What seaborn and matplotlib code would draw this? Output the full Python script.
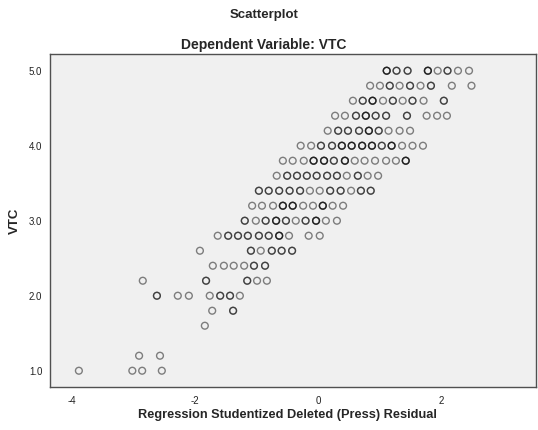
import matplotlib
matplotlib.use("Agg")
import matplotlib.pyplot as plt
import seaborn as sns
import pandas as pd

# VTC levels and the studentized deleted residuals read per level
# (repeated values = overlapping cases drawn on top of each other)
vtc_levels = [1.0, 1.2, 1.6, 1.8, 2.0, 2.2, 2.4, 2.6, 2.8, 3.0, 3.2,
              3.4, 3.6, 3.8, 4.0, 4.2, 4.4, 4.6, 4.8, 5.0]

res_1_0 = [-3.89, -3.02, -2.86, -2.54]
res_1_2 = [-2.91, -2.57]
res_1_6 = [-1.84]
res_1_8 = [-1.72, -1.38, -1.38]
res_2_0 = [-2.62, -2.62, -2.28, -2.10, -1.76, -1.59, -1.59, -1.43, -1.43, -1.27]
res_2_2 = [-2.85, -1.82, -1.82, -1.15, -1.15, -0.99, -0.83]
res_2_4 = [-1.71, -1.53, -1.37, -1.20, -1.04, -1.04, -0.86, -0.86]
res_2_6 = [-1.92, -1.09, -1.09, -0.93, -0.75, -0.75, -0.59, -0.59, -0.42, -0.42]
res_2_8 = [-1.63, -1.46, -1.46, -1.30, -1.30, -1.14, -1.14, -0.96, -0.96,
           -0.80, -0.80, -0.63, -0.63, -0.63, -0.47, -0.15, 0.03]
res_3_0 = [-1.19, -1.19, -1.01, -0.85, -0.85, -0.68, -0.68, -0.68, -0.52, -0.52,
           -0.36, -0.20, -0.20, -0.03, -0.03, -0.03, 0.13, 0.31]
res_3_2 = [-1.07, -0.91, -0.73, -0.57, -0.57, -0.57, -0.41, -0.41, -0.41,
           -0.24, -0.08, 0.08, 0.08, 0.08, 0.24, 0.41]
res_3_4 = [-0.96, -0.96, -0.80, -0.80, -0.63, -0.63, -0.46, -0.46, -0.29, -0.29,
           -0.13, 0.03, 0.20, 0.20, 0.37, 0.37, 0.54, 0.70, 0.70, 0.86, 0.86]
res_3_6 = [-0.67, -0.50, -0.50, -0.34, -0.34, -0.18, -0.18, -0.02, -0.02,
           0.15, 0.15, 0.31, 0.31, 0.47, 0.65, 0.65, 0.81, 0.98]
res_3_8 = [-0.57, -0.41, -0.23, -0.07, -0.07, -0.07, 0.10, 0.10, 0.10,
           0.26, 0.26, 0.44, 0.44, 0.44, 0.60, 0.76, 0.93, 1.11, 1.27,
           1.43, 1.43, 1.43]
res_4_0 = [-0.28, -0.11, 0.05, 0.05, 0.23, 0.23, 0.39, 0.39, 0.39, 0.55, 0.55, 0.55,
           0.72, 0.72, 0.72, 0.88, 0.88, 0.88, 1.04, 1.04, 1.20, 1.20, 1.20,
           1.37, 1.54, 1.71]
res_4_2 = [0.16, 0.33, 0.33, 0.49, 0.49, 0.67, 0.67, 0.83, 0.83, 0.83,
           0.99, 0.99, 1.15, 1.33, 1.50]
res_4_4 = [0.28, 0.44, 0.62, 0.62, 0.78, 0.78, 0.78, 0.94, 0.94, 1.11, 1.11,
           1.45, 1.45, 1.77, 1.94, 2.10]
res_4_6 = [0.57, 0.73, 0.73, 0.89, 0.89, 0.89, 1.06, 1.22, 1.22, 1.38,
           1.54, 1.54, 1.72, 2.05, 2.05]
res_4_8 = [0.85, 1.01, 1.17, 1.17, 1.33, 1.50, 1.50, 1.67, 1.84, 1.84, 2.18, 2.50]
res_5_0 = [1.12, 1.12, 1.12, 1.28, 1.28, 1.46, 1.46, 1.79, 1.79, 1.79,
           1.95, 2.11, 2.11, 2.28, 2.46]

residual_rows = [res_1_0, res_1_2, res_1_6, res_1_8, res_2_0, res_2_2, res_2_4,
                 res_2_6, res_2_8, res_3_0, res_3_2, res_3_4, res_3_6, res_3_8,
                 res_4_0, res_4_2, res_4_4, res_4_6, res_4_8, res_5_0]

x_ticks = [-4, -2, 0, 2]
y_ticks = [1.0, 2.0, 3.0, 4.0, 5.0]

rows = []
for lvl, vals in zip(vtc_levels, residual_rows):
    for v in vals:
        rows.append((v, lvl))
df = pd.DataFrame(rows, columns=["residual", "VTC"])

sns.set_theme(style="white")
plt.rcParams["font.family"] = ["Liberation Sans", "DejaVu Sans"]

fig = plt.figure(figsize=(5.38, 4.30), dpi=100)
ax = fig.add_axes([50 / 538, 1 - 386.7 / 430, (536 - 50) / 538, (386.7 - 54) / 430])
ax.set_facecolor("#f0f0f0")

sns.scatterplot(data=df, x="residual", y="VTC", ax=ax, marker="o", s=24,
                facecolor="none", edgecolor="black", linewidth=1.0, alpha=0.48)

ax.set_xlim(-4.36, 3.55)
ax.set_ylim(0.787, 5.223)
ax.set_xticks(x_ticks)
ax.set_xticklabels([str(t) for t in x_ticks])
ax.set_yticks(y_ticks)
ax.set_yticklabels([f"{t:.1f}" for t in y_ticks])
ax.tick_params(axis="both", direction="out", length=4, width=1.0, color="#444444",
               labelsize=7, labelcolor="#222222", pad=1.5)
ax.tick_params(axis="x", length=5)
for sp in ax.spines.values():
    sp.set_visible(True)
    sp.set_color("#505050")
    sp.set_linewidth(1.0)

ax.set_xlabel("Regression Studentized Deleted (Press) Residual", fontsize=9.2,
              fontweight="bold")
ax.xaxis.set_label_coords((287 - 50) / 486, (386.7 - 415) / 332.7)
ax.xaxis.label.set_va("center")
ax.set_ylabel("VTC", fontsize=9.5, fontweight="bold")
ax.yaxis.set_label_coords((15 - 50) / 486, 0.5)
ax.yaxis.label.set_va("center")

fig.text(264 / 538, 1 - 15 / 430, "Scatterplot", ha="center", va="center",
         fontsize=9.5, fontweight="bold")
fig.text(264 / 538, 1 - 45 / 430, "Dependent Variable: VTC", ha="center",
         va="center", fontsize=10, fontweight="bold")

fig.savefig("out.png", dpi=100, facecolor="white")
